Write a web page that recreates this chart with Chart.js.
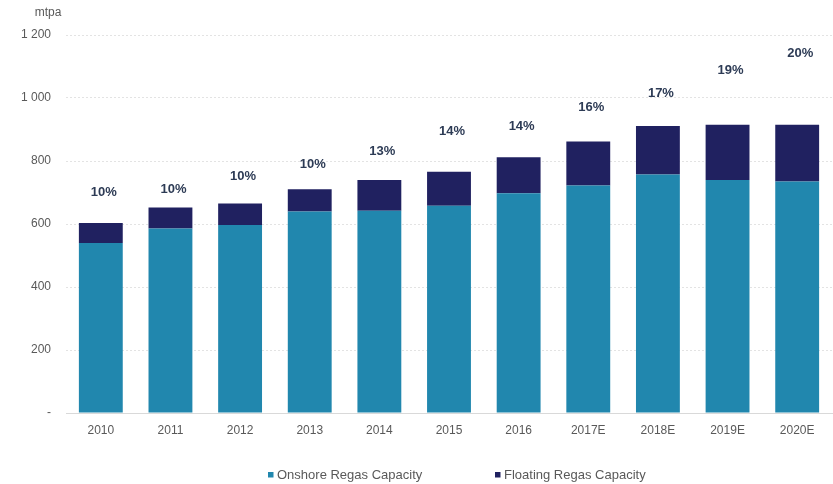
<!DOCTYPE html>
<html>
<head>
<meta charset="utf-8">
<script src="https://cdn.jsdelivr.net/npm/chart.js@4.4.0/dist/chart.umd.min.js"></script>
<style>
  html, body { margin: 0; padding: 0; background: #ffffff; }
  #wrap { width: 833px; height: 484px; }
</style>
</head>
<body>
<div id="wrap"><canvas id="chart" width="833" height="484"></canvas></div>
<script>
// Regasification capacity by year (mtpa)
const categories = ['2010', '2011', '2012', '2013', '2014', '2015', '2016', '2017E', '2018E', '2019E', '2020E'];
const onshoreCapacity  = [540, 586, 597, 640, 642, 658, 698, 722, 757, 740, 735];
const floatingCapacity = [ 63,  66,  68,  70,  98, 108, 114, 140, 154, 175, 180];

// Floating share of total capacity, and the level (mtpa) where each share label sits
const floatingShareLabels = ['10%', '10%', '10%', '10%', '13%', '14%', '14%', '16%', '17%', '19%', '20%'];
const shareLabelLevels    = [701, 711, 750, 789, 830, 893, 909, 970, 1015, 1087, 1142];

// Value axis
const yMin = 0;
const yMax = 1200;
const yStep = 200;
const unitLabel = 'mtpa';

const FONT = '"Liberation Sans", Arial, Helvetica, sans-serif';
const ONSHORE_COLOR = '#2187AE';
const FLOATING_COLOR = '#202160';
const TEXT_GREY = '#595959';

function formatThousands(v) {
  if (v === 0) return '-';
  return String(v).replace(/\B(?=(\d{3})+(?!\d))/g, ' ');
}

// Draws share labels, the unit caption and the legend
const overlay = {
  id: 'overlay',
  afterDatasetsDraw(chart) {
    const ctx = chart.ctx;
    ctx.save();

    // share labels above the bars
    const meta = chart.getDatasetMeta(2);
    ctx.font = 'bold 13px ' + FONT;
    ctx.fillStyle = '#2D3B55';
    ctx.textAlign = 'center';
    ctx.textBaseline = 'middle';
    meta.data.forEach((pt, i) => {
      ctx.fillText(floatingShareLabels[i], pt.x + 3, pt.y);
    });

    // unit caption
    ctx.font = '12px ' + FONT;
    ctx.fillStyle = TEXT_GREY;
    ctx.textAlign = 'center';
    ctx.fillText(unitLabel, 48, 13);

    // legend
    const items = [
      { ds: chart.data.datasets[0], x: 268 },
      { ds: chart.data.datasets[1], x: 495 }
    ];
    ctx.font = '13px ' + FONT;
    ctx.textAlign = 'left';
    items.forEach(it => {
      ctx.fillStyle = it.ds.backgroundColor;
      ctx.fillRect(it.x, 472, 5.5, 5.5);
      ctx.fillStyle = TEXT_GREY;
      ctx.fillText(it.ds.label, it.x + 9, 475.5);
    });

    ctx.restore();
  }
};

new Chart(document.getElementById('chart'), {
  type: 'bar',
  data: {
    labels: categories,
    datasets: [
      {
        label: 'Onshore Regas Capacity',
        data: onshoreCapacity,
        backgroundColor: ONSHORE_COLOR,
        stack: 'capacity',
        barPercentage: 0.63,
        categoryPercentage: 1.0,
        order: 2
      },
      {
        label: 'Floating Regas Capacity',
        data: floatingCapacity,
        backgroundColor: FLOATING_COLOR,
        stack: 'capacity',
        barPercentage: 0.63,
        categoryPercentage: 1.0,
        order: 2
      },
      {
        type: 'line',
        label: 'share',
        data: shareLabelLevels,
        stack: 'shareLabels',
        showLine: false,
        pointRadius: 0,
        pointHoverRadius: 0,
        borderWidth: 0,
        order: 1
      }
    ]
  },
  options: {
    responsive: false,
    animation: false,
    devicePixelRatio: 1,
    layout: { padding: { top: 35, right: 1, bottom: 0, left: 0 } },
    plugins: {
      legend: { display: false },
      tooltip: { enabled: false }
    },
    scales: {
      x: {
        stacked: true,
        grid: { display: false, drawTicks: false },
        border: { display: true, color: '#D9D9D9', width: 1 },
        ticks: {
          color: TEXT_GREY,
          font: { family: FONT, size: 12 },
          padding: 10,
          maxRotation: 0,
          autoSkip: false
        },
        afterFit(scale) { scale.height = 71; }
      },
      y: {
        stacked: true,
        min: yMin,
        max: yMax,
        grid: {
          drawTicks: false,
          color: ctx => ctx.tick && ctx.tick.value === 0 ? '#D9D9D9' : '#E3E3E3',
          lineWidth: 1
        },
        border: {
          display: false,
          dash: ctx => ctx.tick && ctx.tick.value === 0 ? [] : [2, 2]
        },
        ticks: {
          stepSize: yStep,
          color: TEXT_GREY,
          font: { family: FONT, size: 12 },
          padding: 15,
          callback: v => formatThousands(v)
        },
        afterFit(scale) { scale.width = 66; }
      }
    }
  },
  plugins: [overlay]
});
</script>
</body>
</html>
